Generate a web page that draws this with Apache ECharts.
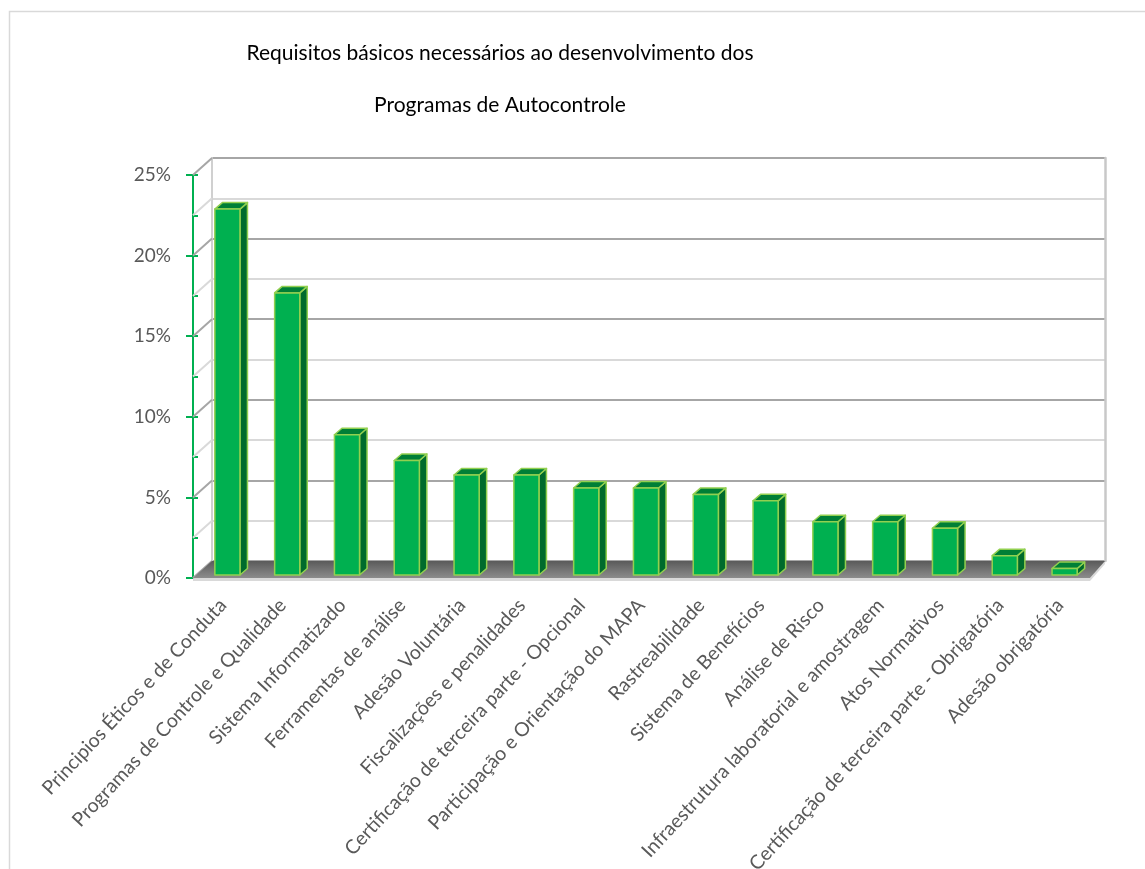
<!DOCTYPE html>
<html><head><meta charset="utf-8">
<script src="https://cdn.jsdelivr.net/npm/echarts@6/dist/echarts.min.js"></script>
<style>html,body{margin:0;padding:0;background:#fff;}#c{width:1145px;height:869px;}</style>
</head><body><div id="c"></div>
<script>
const titleLines = ['Requisitos básicos necessários ao desenvolvimento dos', 'Programas de Autocontrole'];
const categories = [
  'Principios Éticos e de Conduta',
  'Programas de Controle e Qualidade',
  'Sistema Informatizado',
  'Ferramentas de análise',
  'Adesão Voluntária',
  'Fiscalizações e penalidades',
  'Certificação de terceira parte - Opcional',
  'Participação e Orientação do MAPA',
  'Rastreabilidade',
  'Sistema de Benefícios',
  'Análise de Risco',
  'Infraestrutura laboratorial e amostragem',
  'Atos Normativos',
  'Certificação de terceira parte - Obrigatória',
  'Adesão obrigatória'
];
const values = [22.7, 17.5, 8.7, 7.1, 6.2, 6.2, 5.4, 5.4, 5.0, 4.6, 3.3, 3.3, 2.9, 1.2, 0.4];
const yMin = 0, yMax = 25, yMajor = 5, yMinor = 2.5;
const wallTicks = [0, 2.5, 5, 7.5, 10, 12.5, 15, 17.5, 20, 22.5, 25];

const FONT = 'Lato';
const GREEN = '#00B050', SIDE = '#006B2C', TOP = '#007F36', EDGE = '#92D050';
const DEPTH_X = 19, DEPTH_Y = -17;

function renderBar(params, api) {
  const i = api.value(0), v = api.value(1);
  const b = api.coord([i, 0]), t = api.coord([i, v]);
  const band = api.size([1, 0])[0];
  const w = band * 0.42;
  const ox = 4.5, oy = -3, dx = 7.5, dy = -6.5;
  const x0 = b[0] + ox - w / 2, x1 = x0 + w;
  const yb = b[1] + oy, yt = t[1] + oy;
  const st = { stroke: EDGE, lineWidth: 1.5, lineJoin: 'round' };
  return { type: 'group', children: [
    { type: 'polygon', shape: { points: [[x1, yb], [x1 + dx, yb + dy], [x1 + dx, yt + dy], [x1, yt]] }, style: Object.assign({ fill: SIDE }, st) },
    { type: 'polygon', shape: { points: [[x0, yt], [x1, yt], [x1 + dx, yt + dy], [x0 + dx, yt + dy]] }, style: Object.assign({ fill: TOP }, st) },
    { type: 'rect', shape: { x: x0, y: yt, width: w, height: yb - yt }, style: Object.assign({ fill: GREEN }, st) }
  ]};
}

function renderWall(params, api) {
  const cs = params.coordSys;
  const v = api.value(1);
  const p = api.coord([0, v]);
  const major = Math.abs(v / yMajor - Math.round(v / yMajor)) < 1e-6;
  return { type: 'line', shape: { x1: cs.x, y1: p[1], x2: cs.x + DEPTH_X, y2: p[1] + DEPTH_Y },
    style: { stroke: major ? '#a6a6a6' : '#d9d9d9', lineWidth: 2 } };
}

function renderFloor(params, api) {
  const cs = params.coordSys;
  const y0 = api.coord([0, yMin])[1];
  const xL = cs.x, xR = cs.x + cs.width;
  return { type: 'group', children: [
    { type: 'polygon', shape: { points: [[xL, y0], [xR, y0], [xR + 15, y0 + DEPTH_Y], [xL + DEPTH_X, y0 + DEPTH_Y]] },
      style: { fill: new echarts.graphic.LinearGradient(0, 0, 0, 1, [{ offset: 0, color: '#5a5a5a' }, { offset: 1, color: '#8c8c8c' }]) } },
    { type: 'polygon', shape: { points: [[xL, y0], [xR, y0], [xR + 15, y0 + DEPTH_Y], [xR + 15, y0 + DEPTH_Y + 3], [xR, y0 + 3], [xL, y0 + 3]] },
      style: { fill: '#d9d9d9' }, z2: -1 }
  ]};
}

const chart = echarts.init(document.getElementById('c'));
chart.setOption({
  backgroundColor: '#ffffff',
  animation: false,
  title: {
    text: titleLines.join('\n'),
    left: 495, top: 22, textAlign: 'center',
    textStyle: { fontFamily: FONT, fontSize: 21, fontWeight: 'normal', color: '#000000', lineHeight: 52 }
  },
  graphic: [
    { type: 'rect', shape: { x: 9.5, y: 11.5, width: 1300, height: 1000 }, style: { fill: 'none', stroke: '#d9d9d9', lineWidth: 1.5 }, silent: true, z: -10 }
  ],
  grid: [
    { left: 193, right: 55, top: 175, bottom: 291, containLabel: false, outerBoundsMode: 'none' },
    { left: 212, right: 40, top: 158, bottom: 308, containLabel: false, outerBoundsMode: 'none' }
  ],
  xAxis: [
    { type: 'category', gridIndex: 0, data: categories,
      axisLine: { show: false }, axisTick: { show: false },
      axisLabel: { interval: 0, rotate: 47, margin: 24, fontFamily: FONT, fontSize: 19.5, color: '#595959' } },
    { type: 'category', gridIndex: 1, data: categories,
      axisLine: { show: false }, axisTick: { show: false }, axisLabel: { show: false } }
  ],
  yAxis: [
    { type: 'value', gridIndex: 0, min: yMin, max: yMax, interval: yMajor,
      axisLine: { show: true, lineStyle: { color: GREEN, width: 2 } },
      axisTick: { show: true, length: 7, lineStyle: { color: GREEN, width: 2 } },
      axisLabel: { formatter: '{value}%', margin: 22, fontFamily: FONT, fontSize: 19, color: '#595959', padding: [4, 0, 0, 0] },
      splitLine: { show: false } },
    { type: 'value', gridIndex: 0, min: yMin, max: yMax, interval: yMinor, position: 'left',
      axisLine: { show: false },
      axisTick: { show: true, inside: true, length: 5, lineStyle: { color: GREEN, width: 2 } },
      axisLabel: { show: false }, splitLine: { show: false } },
    { type: 'value', gridIndex: 1, min: yMin, max: yMax, interval: yMinor,
      axisLine: { show: true, lineStyle: { color: '#d0d0d0', width: 2 } },
      axisTick: { show: false }, axisLabel: { show: false },
      splitLine: { show: true, lineStyle: { color: ['#a6a6a6', '#d9d9d9'], width: 2 } } },
    { type: 'value', gridIndex: 1, min: yMin, max: yMax, interval: yMinor, position: 'right',
      axisLine: { show: true, lineStyle: { color: '#c8c8c8', width: 2.5 } },
      axisTick: { show: false }, axisLabel: { show: false }, splitLine: { show: false } }
  ],
  series: [
    { type: 'custom', name: 'wall', xAxisIndex: 0, yAxisIndex: 0, renderItem: renderWall,
      data: wallTicks.map(v => [0, v]), z: 1, silent: true },
    { type: 'custom', name: 'floor', xAxisIndex: 0, yAxisIndex: 0, renderItem: renderFloor,
      data: [[0, yMin]], z: 1, silent: true },
    { type: 'custom', name: 'Requisitos', xAxisIndex: 0, yAxisIndex: 0, renderItem: renderBar,
      data: values.map((v, i) => [i, v]), z: 3 }
  ]
});
</script></body></html>
